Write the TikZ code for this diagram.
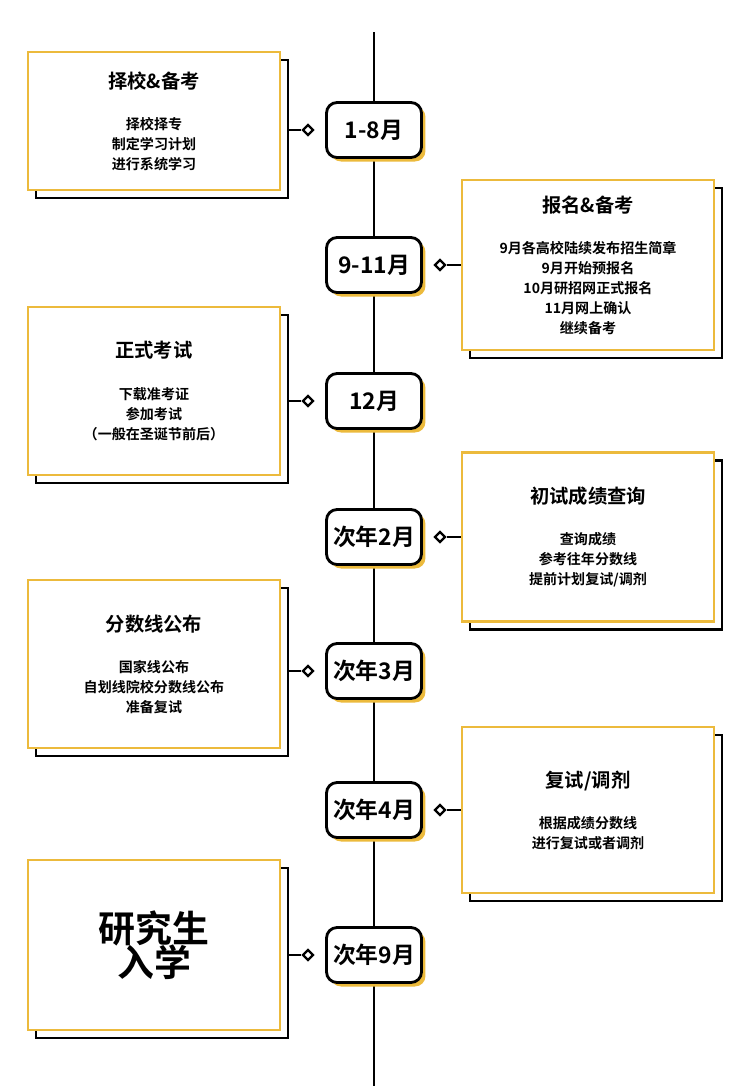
\documentclass[tikz,border=0pt]{standalone}
\usepackage{fontspec}
\setmainfont{Noto Sans CJK SC}[BoldFont={Noto Sans CJK SC Bold}]
\usetikzlibrary{shapes.geometric}
\definecolor{gold}{RGB}{236,186,60}
\tikzset{
  card/.style={draw=gold, line width=1.6pt, fill=white, minimum width=5.04cm, align=center, font=\bfseries\fontsize{8}{11.4}\selectfont, inner sep=0pt},
  cardshadow/.style={draw=black, line width=1.6pt, fill=white, minimum width=5.04cm},
  month/.style={draw=black, line width=1.6pt, fill=white, rounded corners=6pt, minimum width=1.9cm, minimum height=1.1cm, inner xsep=2pt, font=\bfseries\fontsize{13}{15}\selectfont},
  monthshadow/.style={fill=gold, rounded corners=6pt, minimum width=1.9cm, minimum height=1.1cm},
  knot/.style={diamond, draw=black, line width=1.3pt, fill=white, inner sep=0pt, minimum size=0.22cm},
}
\newcommand{\ttlline}[1]{{\fontsize{11}{12}\selectfont #1}\\[12pt]}
\newcommand{\bigline}[1]{{\fontsize{21}{27}\selectfont #1}}
\begin{document}
\begin{tikzpicture}[x=0.02cm, y=-0.02cm]
  \fill[white] (0,0) rectangle (750,1086);
  \useasboundingbox (0,0) rectangle (750,1086);
  % --- Asse del tempo ---
  \draw[line width=1.6pt] (374,32) -- (374,1086);

  % --- Mesi ---
  \foreach \n/\yy/\t in {1/130/1-8月, 2/265/9-11月, 3/401/12月, 4/537/次年2月, 5/671/次年3月, 6/810/次年4月, 7/955/次年9月}{
    \node[monthshadow] at (378,\yy+4) {};
    \node[month] (m\n) at (374,\yy) {\t};
  }

  % --- Schede a sinistra ---
  \foreach \n/\yc/\h/\yd/\txt in {
    1/121/2.76/130/{\ttlline{择校\&备考}择校择专\\制定学习计划\\进行系统学习},
    3/391/3.36/401/{\ttlline{正式考试}下载准考证\\参加考试\\（一般在圣诞节前后）},
    5/664/3.36/671/{\ttlline{分数线公布}国家线公布\\自划线院校分数线公布\\准备复试},
    7/945/3.4/955/{\bigline{研究生}\\[-2pt]\bigline{入学}}}{
    \node[cardshadow, minimum height=\h cm] (s\n) at (162,\yc+8) {};
    \node[card, minimum height=\h cm] (b\n) at (154,\yc) {\txt};
    \node[knot] (d\n) at (308,\yd) {};
    \draw[line width=1.6pt] (s\n.east |- d\n) -- (d\n);
  }

  % --- Schede a destra ---
  \foreach \n/\yc/\h/\yd/\txt in {
    2/265/3.4/265/{\ttlline{报名\&备考}9月各高校陆续发布招生简章\\9月开始预报名\\10月研招网正式报名\\11月网上确认\\继续备考},
    4/537/3.38/537/{\ttlline{初试成绩查询}查询成绩\\参考往年分数线\\提前计划复试/调剂},
    6/810/3.32/810/{\ttlline{复试/调剂}根据成绩分数线\\进行复试或者调剂}}{
    \node[cardshadow, minimum height=\h cm] (s\n) at (596,\yc+8) {};
    \node[card, minimum height=\h cm] (b\n) at (588,\yc) {\txt};
    \node[knot] (d\n) at (440,\yd) {};
    \draw[line width=1.6pt] (d\n) -- (b\n.west |- d\n);
  }
\end{tikzpicture}
\end{document}
